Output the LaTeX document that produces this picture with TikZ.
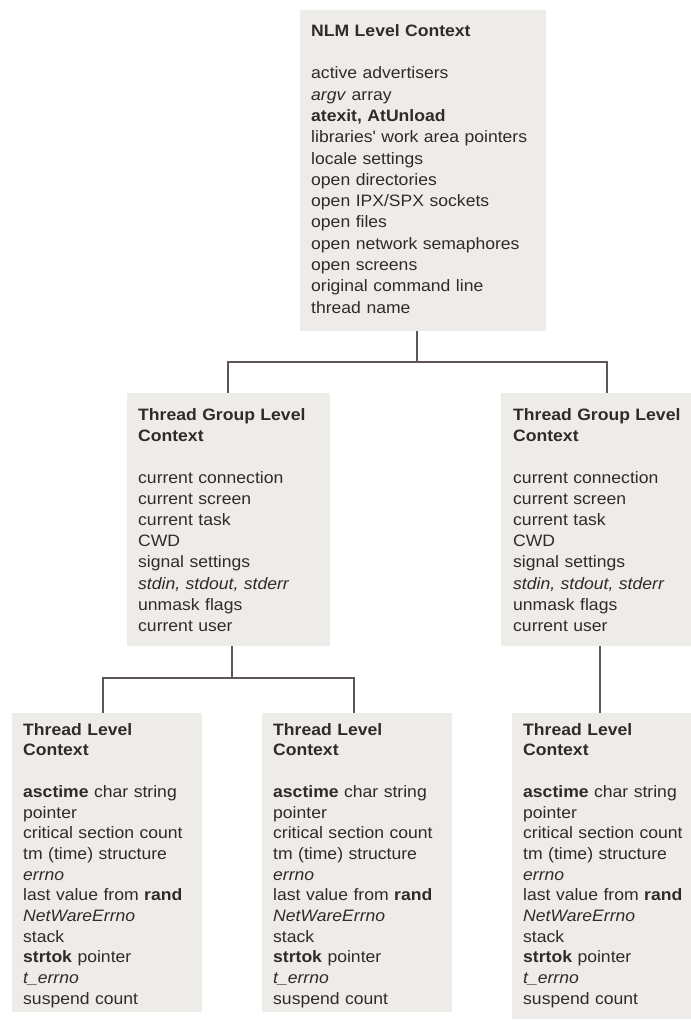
\documentclass[tikz,border=0pt]{standalone}
\usepackage{fontspec}
\setmainfont{Liberation Sans}[FakeStretch=1.065]
\setlength{\parindent}{0pt}
\definecolor{boxfill}{HTML}{EDECE8}
\definecolor{inkc}{HTML}{2E2B2B}
\definecolor{linkc}{HTML}{5E5555}

% struts that fix the gap above the first baseline and below the last one
\newcommand\ctxtop[1]{\rule{0pt}{#1}}
\newcommand\ctxbot[1]{\rule[-#1]{0pt}{#1}}

\tikzset{
  ctxbox/.style={fill=boxfill, anchor=north west, inner xsep=11pt, inner ysep=0pt,
    align=left, text=inkc, font=\fontsize{16.5}{#1}\selectfont},
  link/.style={draw=linkc, line width=1.2pt},
}

\begin{document}
\begin{tikzpicture}[x=1pt,y=-1pt]
\useasboundingbox (0,0) rectangle (691,1021);
\clip (0,0) rectangle (691,1021);
\fill[white] (0,0) rectangle (691,1021);

% top level
\node[ctxbox=21.3pt, text width=224pt] (nlm) at (300,10) {\ctxtop{26pt}\textbf{NLM Level Context}\\[21.3pt]
active advertisers\\
\textit{argv} array\\
\textbf{atexit, AtUnload}\\
libraries\textquotesingle{} work area pointers\\
locale settings\\
open directories\\
open IPX/SPX sockets\\
open files\\
open network semaphores\\
open screens\\
original command line\\
thread name\ctxbot{18pt}};

% thread group level
\node[ctxbox=21.1pt, text width=181pt] (tgl) at (127,393) {\ctxtop{27pt}\textbf{Thread Group Level}\\
\textbf{Context}\\[21.1pt]
current connection\\
current screen\\
current task\\
CWD\\
signal settings\\
\textit{stdin, stdout, stderr}\\
unmask flags\\
current user\ctxbot{15pt}};

\node[ctxbox=21.1pt, text width=180pt, inner xsep=12pt] (tgr) at (501,393) {\ctxtop{27pt}\textbf{Thread Group Level}\\
\textbf{Context}\\[21.1pt]
current connection\\
current screen\\
current task\\
CWD\\
signal settings\\
\textit{stdin, stdout, stderr}\\
unmask flags\\
current user\ctxbot{15pt}};

% thread level
\node[ctxbox=20.7pt, text width=168pt] (tha) at (12,713) {\ctxtop{22pt}\textbf{Thread Level}\\
\textbf{Context}\\[20.7pt]
\textbf{asctime} char string\\
pointer\\
critical section count\\
tm (time) structure\\
\textit{errno}\\
last value from \textbf{rand}\\
\textit{NetWareErrno}\\
stack\\
\textbf{strtok} pointer\\
\textit{t\_errno}\\
suspend count\ctxbot{8pt}};

\node[ctxbox=20.7pt, text width=168pt] (thb) at (262,713) {\ctxtop{22pt}\textbf{Thread Level}\\
\textbf{Context}\\[20.7pt]
\textbf{asctime} char string\\
pointer\\
critical section count\\
tm (time) structure\\
\textit{errno}\\
last value from \textbf{rand}\\
\textit{NetWareErrno}\\
stack\\
\textbf{strtok} pointer\\
\textit{t\_errno}\\
suspend count\ctxbot{8pt}};

\node[ctxbox=20.7pt, text width=168pt] (thc) at (512,713) {\ctxtop{22pt}\textbf{Thread Level}\\
\textbf{Context}\\[20.7pt]
\textbf{asctime} char string\\
pointer\\
critical section count\\
tm (time) structure\\
\textit{errno}\\
last value from \textbf{rand}\\
\textit{NetWareErrno}\\
stack\\
\textbf{strtok} pointer\\
\textit{t\_errno}\\
suspend count\ctxbot{15pt}};

% connector junctions
\coordinate (j0) at (417,362);
\coordinate (c1) at (228,362);
\coordinate (c2) at (607,362);
\coordinate (j1) at (232,678);
\coordinate (d1) at (103,678);
\coordinate (d2) at (354,678);
\coordinate (e1) at (600,680);

\draw[link] (nlm.south -| j0) -- (j0);
\draw[link] (tgl.north -| c1) -- (c1) -- (c2) -- (tgr.north -| c2);
\draw[link] (tgl.south -| j1) -- (j1);
\draw[link] (tha.north -| d1) -- (d1) -- (d2) -- (thb.north -| d2);
\draw[link] (tgr.south -| e1) -- (thc.north -| e1);
\end{tikzpicture}
\end{document}
